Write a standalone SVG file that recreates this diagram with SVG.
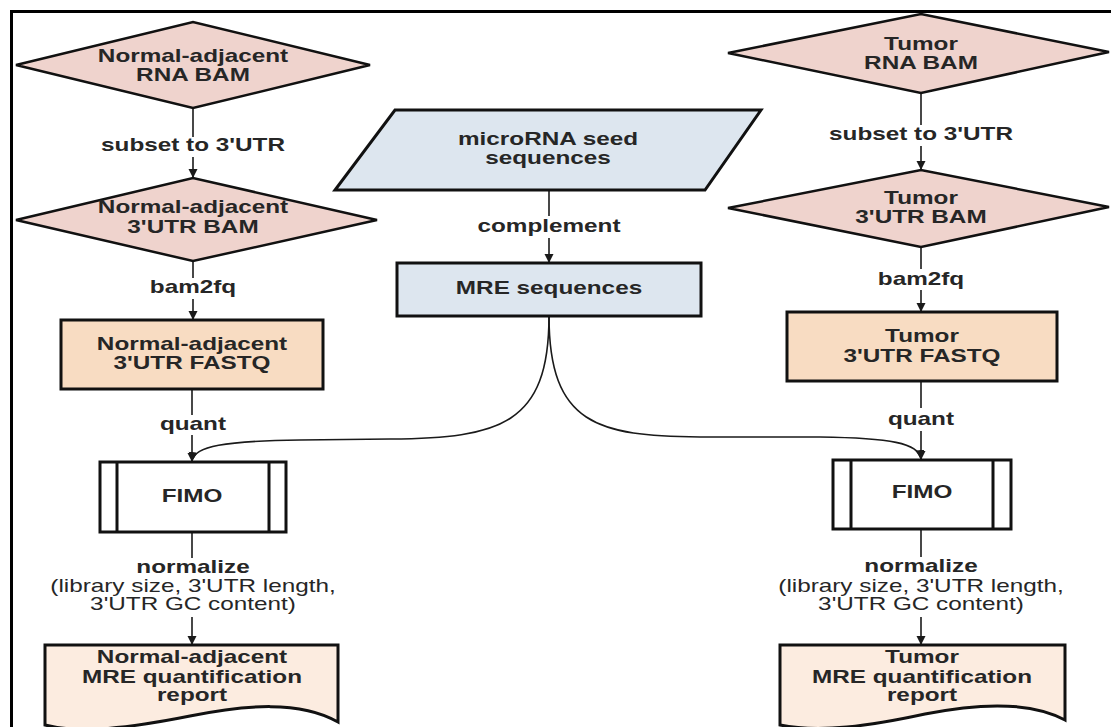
<svg xmlns="http://www.w3.org/2000/svg" width="1111" height="727" viewBox="0 0 1111 727">
<defs>
<marker id="ah" markerUnits="userSpaceOnUse" markerWidth="10" markerHeight="10" refX="9" refY="4.5" orient="auto">
<path d="M0,0 L9,4.5 L0,9 z" fill="#1a1a1a"/>
</marker>
<style>
.shape{stroke:#111;stroke-width:3;stroke-linejoin:miter}
.dia{fill:#efd3cd;stroke:#111;stroke-width:2.5}
.fq{fill:#f8dcc2}
.blue{fill:#dde6ef}
.doc{fill:#fcece0}
.fimo{fill:#fff}
.c{fill:none;stroke:#1a1a1a;stroke-width:1.6}
.t{font-family:"Liberation Sans",Arial,sans-serif;font-size:18px;font-weight:bold;fill:#262626;text-anchor:middle}
.r{font-weight:normal}
</style>
</defs>
<rect width="1111" height="727" fill="#fff"/>
<rect x="11.5" y="11.5" width="1110" height="730" fill="none" stroke="#000" stroke-width="3"/>

<g id="connectors">
<!-- left column -->
<path class="c" d="M193,108 V137"/>
<path class="c" d="M193,157 V178" marker-end="url(#ah)"/>
<path class="c" d="M193,261 V278"/>
<path class="c" d="M193,299 V320" marker-end="url(#ah)"/>
<path class="c" d="M192,389 V415"/>
<path class="c" d="M192,435 V462" marker-end="url(#ah)"/>
<path class="c" d="M192,532 V558"/>
<path class="c" d="M192,617 V645" marker-end="url(#ah)"/>
<!-- center -->
<path class="c" d="M549,190 V216"/>
<path class="c" d="M549,238 V263" marker-end="url(#ah)"/>
<path class="c" d="M549,316 C549,425 500,438 390,439 L300,440 C225,441 194,446 192,461" marker-end="url(#ah)"/>
<path class="c" d="M549,316 C549,425 598,436 700,437 L820,437 C890,438 919,443 921,459" marker-end="url(#ah)"/>
<!-- right column -->
<path class="c" d="M921,93 V125"/>
<path class="c" d="M921,146 V170" marker-end="url(#ah)"/>
<path class="c" d="M921,247 V269"/>
<path class="c" d="M921,290 V312" marker-end="url(#ah)"/>
<path class="c" d="M921,381 V408"/>
<path class="c" d="M921,431 V460" marker-end="url(#ah)"/>
<path class="c" d="M921,529 V557"/>
<path class="c" d="M921,617 V645" marker-end="url(#ah)"/>
<!-- labels -->
<g transform="translate(193,0) scale(1.35,1)">
<text class="t" x="0" y="151">subset to 3'UTR</text>
<text class="t" x="0" y="293">bam2fq</text>
<text class="t" x="0" y="430">quant</text>
<text class="t" x="0" y="573">normalize</text>
<text class="t r" x="0" y="592">(library size, 3'UTR length,</text>
<text class="t r" x="0" y="610">3'UTR GC content)</text>
</g>
<g transform="translate(549,0) scale(1.35,1)">
<text class="t" x="0" y="232">complement</text>
</g>
<g transform="translate(921,0) scale(1.35,1)">
<text class="t" x="0" y="140">subset to 3'UTR</text>
<text class="t" x="0" y="285">bam2fq</text>
<text class="t" x="0" y="425">quant</text>
<text class="t" x="0" y="572">normalize</text>
<text class="t r" x="0" y="592">(library size, 3'UTR length,</text>
<text class="t r" x="0" y="610">3'UTR GC content)</text>
</g>
</g>

<g id="na-rna-bam">
<polygon class="dia" points="16,65 193,22 370,65 193,108"/>
<g transform="translate(193,0) scale(1.35,1)"><text class="t" x="0" y="62">Normal-adjacent</text><text class="t" x="0" y="81">RNA BAM</text></g>
</g>
<g id="na-utr-bam">
<polygon class="dia" points="16,220 193,178 377,220 193,261"/>
<g transform="translate(193,0) scale(1.35,1)"><text class="t" x="0" y="213">Normal-adjacent</text><text class="t" x="0" y="233">3'UTR BAM</text></g>
</g>
<g id="na-fastq">
<rect class="shape fq" x="61" y="320" width="262" height="69"/>
<g transform="translate(192,0) scale(1.35,1)"><text class="t" x="0" y="350">Normal-adjacent</text><text class="t" x="0" y="369">3'UTR FASTQ</text></g>
</g>
<g id="na-fimo">
<rect class="shape fimo" x="100" y="462" width="186" height="70"/>
<path class="shape" d="M117,462 V532 M269,462 V532" fill="none"/>
<g transform="translate(192,0) scale(1.35,1)"><text class="t" x="0" y="502">FIMO</text></g>
</g>
<g id="na-report">
<path class="shape doc" d="M45,645 H338 V722 C300,700 245,705 190,716 C130,728 80,734 45,725 Z"/>
<g transform="translate(192,0) scale(1.35,1)"><text class="t" x="0" y="663">Normal-adjacent</text><text class="t" x="0" y="683">MRE quantification</text><text class="t" x="0" y="701">report</text></g>
</g>

<g id="mirna-seed">
<polygon class="shape blue" points="395,110 761,110 705,190 335,190"/>
<g transform="translate(548,0) scale(1.35,1)"><text class="t" x="0" y="145">microRNA seed</text><text class="t" x="0" y="164">sequences</text></g>
</g>
<g id="mre-seq">
<rect class="shape blue" x="397" y="263" width="304" height="53"/>
<g transform="translate(549,0) scale(1.35,1)"><text class="t" x="0" y="294">MRE sequences</text></g>
</g>

<g id="t-rna-bam">
<polygon class="dia" points="728,53 921,14 1109,52 921,93"/>
<g transform="translate(921,0) scale(1.35,1)"><text class="t" x="0" y="50">Tumor</text><text class="t" x="0" y="69">RNA BAM</text></g>
</g>
<g id="t-utr-bam">
<polygon class="dia" points="728,208 921,170 1109,207 921,247"/>
<g transform="translate(921,0) scale(1.35,1)"><text class="t" x="0" y="204">Tumor</text><text class="t" x="0" y="223">3'UTR BAM</text></g>
</g>
<g id="t-fastq">
<rect class="shape fq" x="787" y="312" width="270" height="69"/>
<g transform="translate(922,0) scale(1.35,1)"><text class="t" x="0" y="342">Tumor</text><text class="t" x="0" y="362">3'UTR FASTQ</text></g>
</g>
<g id="t-fimo">
<rect class="shape fimo" x="833" y="460" width="178" height="69"/>
<path class="shape" d="M851,460 V529 M993,460 V529" fill="none"/>
<g transform="translate(922,0) scale(1.35,1)"><text class="t" x="0" y="498">FIMO</text></g>
</g>
<g id="t-report">
<path class="shape doc" d="M780,645 H1065 V720 C1028,700 975,704 925,714 C870,726 820,733 780,725 Z"/>
<g transform="translate(922,0) scale(1.35,1)"><text class="t" x="0" y="663">Tumor</text><text class="t" x="0" y="683">MRE quantification</text><text class="t" x="0" y="701">report</text></g>
</g>
</svg>
